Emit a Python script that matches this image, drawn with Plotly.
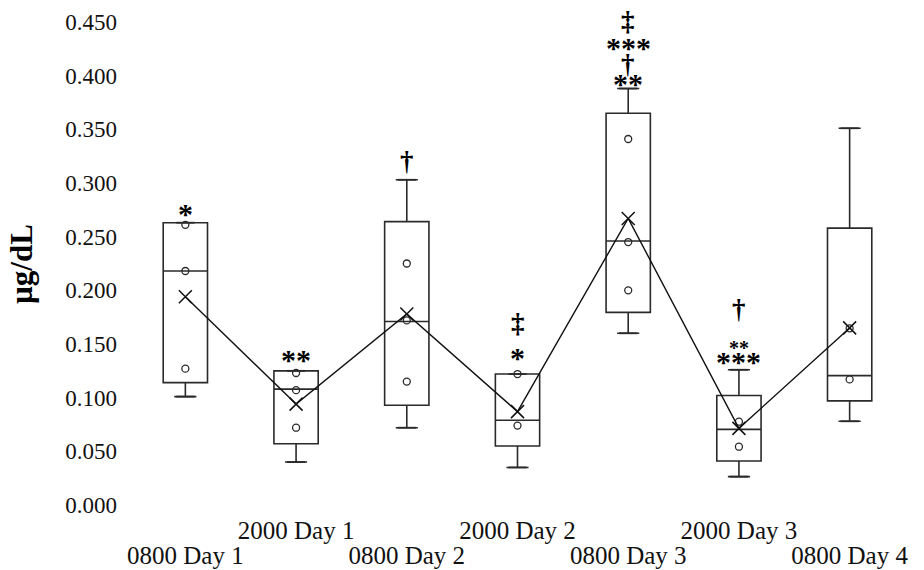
import plotly.graph_objects as go

categories = ["0800 Day 1", "2000 Day 1", "0800 Day 2", "2000 Day 2",
              "0800 Day 3", "2000 Day 3", "0800 Day 4"]
q1 = [0.114, 0.057, 0.093, 0.055, 0.1795, 0.041, 0.097]
median = [0.218, 0.108, 0.171, 0.079, 0.246, 0.0705, 0.1205]
q3 = [0.263, 0.125, 0.264, 0.122, 0.365, 0.102, 0.258]
lower = [0.101, 0.040, 0.072, 0.035, 0.160, 0.0264, 0.078]
upper = [0.263, 0.125, 0.303, 0.122, 0.388, 0.126, 0.351]
means = [0.194, 0.094, 0.178, 0.087, 0.267, 0.0714, 0.165]
inner_points = [
    [0.261, 0.218, 0.127],
    [0.123, 0.107, 0.072],
    [0.225, 0.172, 0.115],
    [0.122, 0.074],
    [0.341, 0.245, 0.200],
    [0.0776, 0.0543],
    [0.1646, 0.117],
]
y_ticks = [0.0, 0.05, 0.10, 0.15, 0.20, 0.25, 0.30, 0.35, 0.40, 0.45]
# significance marks: (category index, text)
sig_marks = [
    (0, "*"), (1, "**"), (2, "†"),
    (3, "*"), (3, "‡"),
    (4, "**"), (4, "†"), (4, "***"), (4, "‡"),
    (5, "***"), (5, "**"), (5, "†"),
]
# style for each mark: (pixel offset above whisker, font size)
sig_style = [
    (9, 30), (11, 30), (19, 27),
    (17, 30), (51, 27),
    (5, 30), (25, 27), (41, 30), (68, 27),
    (8, 30), (22, 20), (61, 27),
]

FONT = "Liberation Serif, Times New Roman, serif"
INK = "#2a2a2a"

xs = list(range(len(categories)))
fig = go.Figure()

for i, cat in enumerate(categories):
    fig.add_trace(go.Box(
        x=[i], q1=[q1[i]], median=[median[i]], q3=[q3[i]],
        lowerfence=[lower[i]], upperfence=[upper[i]],
        width=0.4, boxpoints=False,
        fillcolor="rgba(255,255,255,0)",
        line=dict(color=INK, width=1.6),
        showlegend=False, hoverinfo="skip",
    ))

# whisker caps (drawn on the matching second x axis)
cap_x = xs + xs
cap_y = lower + upper
fig.add_trace(go.Scatter(
    x=cap_x, y=cap_y, mode="markers", xaxis="x2", yaxis="y",
    marker=dict(symbol="line-ew", size=13, line=dict(color=INK, width=1.8)),
    showlegend=False, hoverinfo="skip",
))

# inner points
px, py = [], []
for i, pts in enumerate(inner_points):
    for v in pts:
        px.append(i)
        py.append(v)
fig.add_trace(go.Scatter(
    x=px, y=py, mode="markers",
    marker=dict(symbol="circle-open", size=7, color=INK, line=dict(width=1.3)),
    showlegend=False, hoverinfo="skip",
))

# mean line with X markers
fig.add_trace(go.Scatter(
    x=xs, y=means, mode="lines+markers",
    line=dict(color="#111111", width=1.4),
    marker=dict(symbol="x-thin", size=13, line=dict(color="#111111", width=1.5)),
    showlegend=False, hoverinfo="skip",
))

for (ci, txt), (off, fs) in zip(sig_marks, sig_style):
    fig.add_annotation(
        x=ci, y=upper[ci], xref="x", yref="y", text="<b>" + txt + "</b>",
        showarrow=False, yanchor="middle", yshift=off,
        font=dict(family=FONT, size=fs, color="#000000"),
    )

# y-axis title
fig.add_annotation(
    x=-0.140, y=0.5, xref="paper", yref="paper", text="<b>µg/dL</b>",
    textangle=-90, showarrow=False, xanchor="center", yanchor="middle",
    font=dict(family=FONT, size=31, color="#000000"),
)

even = [i for i in xs if i % 2 == 0]
odd = [i for i in xs if i % 2 == 1]

axis_common = dict(
    showgrid=False, zeroline=False, showline=False, ticks="",
    automargin=False,
)

fig.update_layout(
    width=924, height=570,
    margin=dict(l=130, r=19, t=22, b=65, autoexpand=False),
    plot_bgcolor="white", paper_bgcolor="white",
    font=dict(family=FONT, size=22, color="#111111"),
    xaxis=dict(
        range=[-0.5, len(categories) - 0.5],
        tickvals=even, ticktext=[categories[i] for i in even],
        ticklabelstandoff=33,
        tickfont=dict(family=FONT, size=25, color="#111111"),
        **axis_common,
    ),
    xaxis2=dict(
        overlaying="x", anchor="y", side="bottom",
        range=[-0.5, len(categories) - 0.5],
        tickvals=odd, ticktext=[categories[i] for i in odd],
        ticklabelstandoff=8,
        tickfont=dict(family=FONT, size=25, color="#111111"),
        **axis_common,
    ),
    yaxis=dict(
        range=[0, 0.45], tickvals=y_ticks, tickformat=".3f",
        ticklabelstandoff=12,
        tickfont=dict(family=FONT, size=23, color="#111111"),
        **axis_common,
    ),
)

fig.write_html("out.html",
               config={"displayModeBar": False},
               post_script="document.body.style.margin='0';")
